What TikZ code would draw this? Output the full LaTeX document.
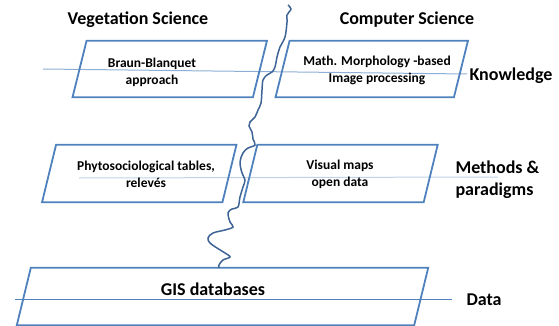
\documentclass[tikz,border=0pt]{standalone}
\usepackage{xcolor}
\usepackage{fontspec}
\setmainfont{Carlito}
\usetikzlibrary{positioning,calc}
\definecolor{boxblue}{HTML}{4F81BD}
\definecolor{riverblue}{HTML}{3E6496}
\definecolor{linelight}{HTML}{8DAFD6}
\definecolor{linepale}{HTML}{BED2E8}
\tikzset{
  frame/.style={rectangle,minimum width=180pt,minimum height=56pt,inner sep=0pt},
  paraline/.style={draw=boxblue,line width=1.8pt,line join=miter},
  boxtxt/.style={font=\fontsize{13.5}{17}\selectfont\bfseries,align=center},
  headtxt/.style={font=\fontsize{18}{22}\selectfont\bfseries,align=left},
  lvlline/.style={line width=1pt}
}
% slanted outline round a frame node
\newcommand{\slantbox}[1]{%
  \draw[paraline] ([xshift=7pt]#1.north west) -- ([xshift=7pt]#1.north east)
    -- ([xshift=-7pt]#1.south east) -- ([xshift=-7pt]#1.south west) -- cycle;}
\begin{document}
\begin{tikzpicture}[x=1pt,y=-1pt]
  \useasboundingbox (0,0) rectangle (559,326);

  % level lines
  \coordinate (k1) at (43,69);
  \coordinate (k2) at (467,74);
  \coordinate (m1) at (79,178);
  \coordinate (m2) at (498,177);
  \coordinate (d1) at (15,299);
  \coordinate (d2) at (452,299);
  \draw[lvlline,draw=linelight] (k1)--(k2);
  \draw[lvlline,draw=linepale] (m1)--(m2);
  \draw[lvlline,draw=boxblue] (d1)--(d2);

  % boxes
  \node[frame] (bb) at (169.75,69) {};
  \node[frame,minimum width=178pt] (cs) at (371.75,69) {};
  \node[frame,minimum height=57pt] (ph) at (139.25,173.5) {};
  \node[frame,minimum height=57pt] (vm) at (340.5,173.5) {};
  \node[frame,minimum width=397pt,minimum height=57pt] (gis) at (222.5,296.5) {};
  \foreach \b in {bb,cs,ph,vm,gis} {\slantbox{\b}}

  \node[boxtxt] (bbtxt) at (152,72) {Braun-Blanquet\\approach};
  \node[boxtxt] (cstxt) at (377,70.5) {Math. Morphology -based\\Image processing};
  \node[boxtxt] (phtxt) at (146,174) {Phytosociological tables,\\relevés};
  \node[boxtxt] (vmtxt) at (340,174.5) {Visual maps\\open data};
  \node[headtxt] (gistxt) at (213,289) {GIS databases};

  % headings
  \node[headtxt] (veg) at (138,20) {Vegetation Science};
  \node[headtxt] (comp) at (407,20) {Computer Science};
  \node[headtxt,anchor=west] (know) at (466,76) {Knowledge};
  \node[headtxt,anchor=west] (meth) at (452,180) {Methods \&\\paradigms};
  \node[headtxt,anchor=west] (data) at (463,300) {Data};

  % divide between the two sciences
  \draw[draw=riverblue,line width=1.5pt] plot[smooth,tension=0.6] coordinates {
    (288,5) (291,9) (287,15) (287,22) (285,37) (280,47) (277,57) (275,67)
    (272,72) (267,75) (263,80) (262,90) (261,103) (258,110) (255,117)
    (250,122) (249,126) (252,132) (253,139) (255,145) (248,148) (243,153)
    (240,162) (242,173) (245,180) (243,187) (240,197) (238,207) (232,209)
    (228,213) (230,222) (233,227) (225,230) (213,233) (208,238) (210,243)
    (217,248) (225,253) (230,257) (223,260) (219,265) (219,268)};
\end{tikzpicture}
\end{document}
